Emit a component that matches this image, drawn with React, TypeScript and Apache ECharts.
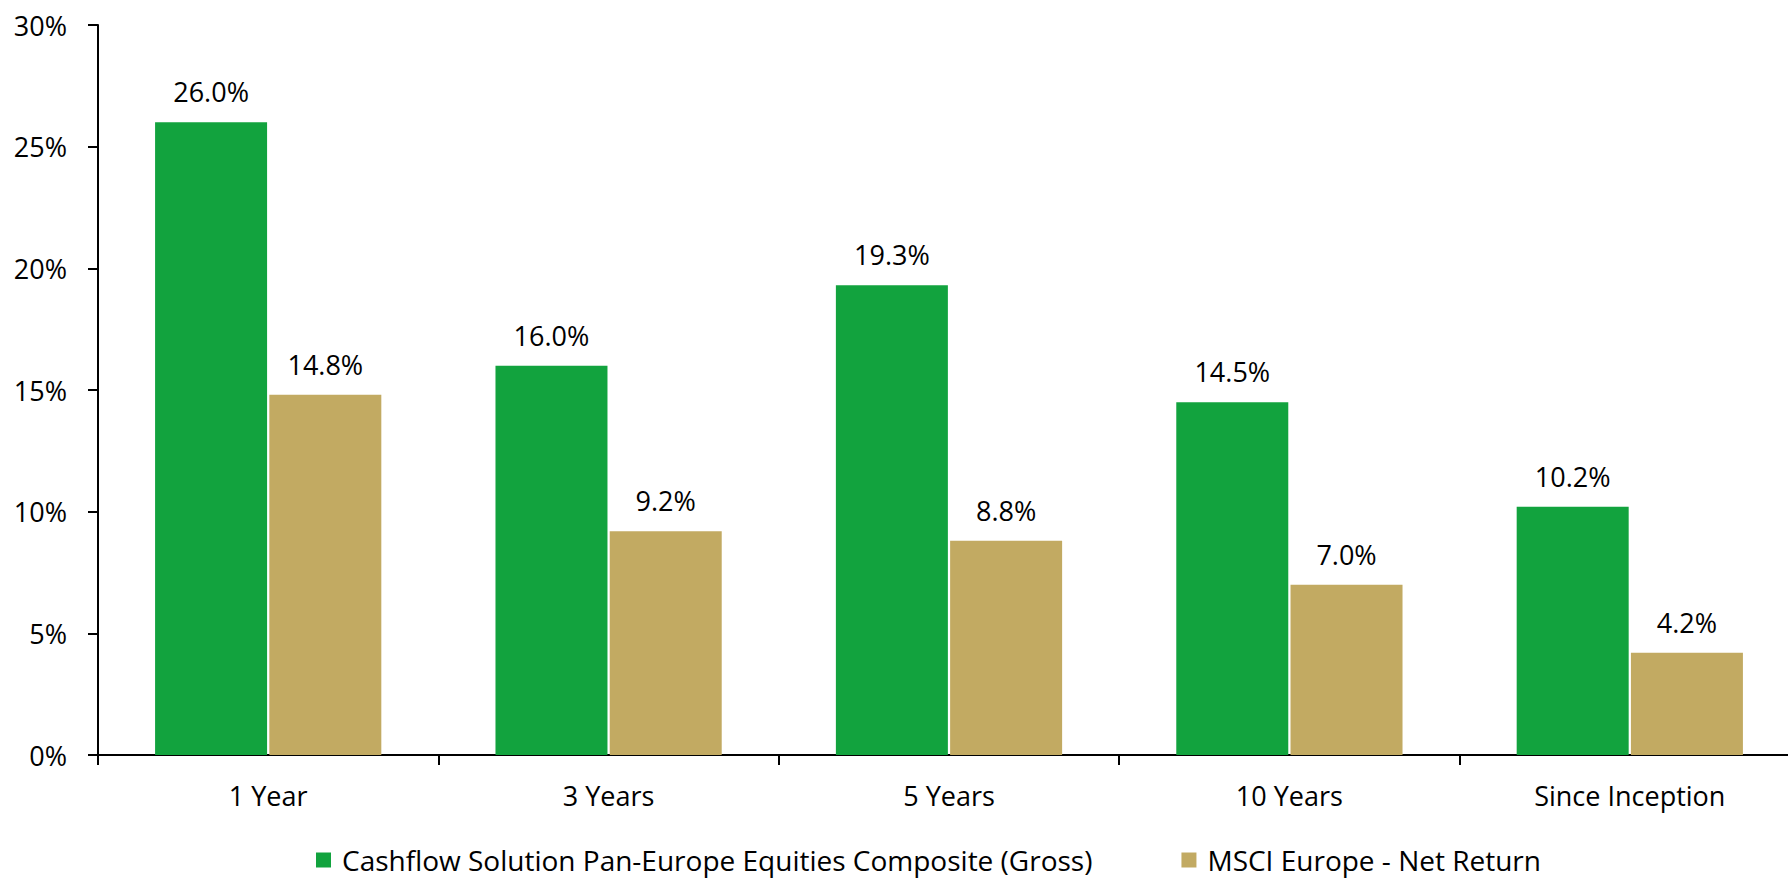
import React, { useEffect, useRef } from "react";
import * as echarts from "echarts";

const categories = ["1 Year", "3 Years", "5 Years", "10 Years", "Since Inception"];
const compositeValues = [26.0, 16.0, 19.3, 14.5, 10.2];
const benchmarkValues = [14.8, 9.2, 8.8, 7.0, 4.2];
const seriesNames = [
  "Cashflow Solution Pan-Europe Equities Composite (Gross)",
  "MSCI Europe - Net Return",
];

const FONT = "Open Sans";

export default function App() {
  const ref = useRef<HTMLDivElement>(null);
  useEffect(() => {
    if (!ref.current) return;
    const chart = echarts.init(ref.current, undefined, { renderer: "svg" });
    const label = {
      show: true,
      position: "top" as const,
      distance: 17,
      formatter: (p: any) => p.value.toFixed(1) + "%",
      color: "#000",
      fontFamily: FONT,
      fontSize: 27,
    };
    chart.setOption({
      animation: false,
      backgroundColor: "#fff",
      textStyle: { fontFamily: FONT },
      grid: { left: 98, top: 25, width: 1702, height: 730 },
      legend: {
        left: 316,
        top: 846,
        padding: 0,
        itemWidth: 15,
        itemHeight: 15,
        itemGap: 89,
        icon: "rect",
        textStyle: {
          fontFamily: FONT,
          fontSize: 28,
          lineHeight: 28,
          color: "#000",
          padding: [0, 0, 0, 6],
        },
        data: seriesNames,
      },
      xAxis: {
        type: "category",
        data: categories,
        axisLine: { show: true, lineStyle: { color: "#000", width: 2 } },
        axisTick: { show: true, length: 10, lineStyle: { color: "#000", width: 2 } },
        axisLabel: { color: "#000", fontFamily: FONT, fontSize: 27, margin: 27 },
      },
      yAxis: {
        type: "value",
        min: 0,
        max: 30,
        interval: 5,
        axisLine: { show: true, lineStyle: { color: "#000", width: 2 } },
        axisTick: { show: true, length: 10, lineStyle: { color: "#000", width: 2 } },
        splitLine: { show: false },
        axisLabel: {
          color: "#000",
          fontFamily: FONT,
          fontSize: 27,
          margin: 31,
          formatter: "{value}%",
        },
      },
      series: [
        {
          name: seriesNames[0],
          type: "bar",
          data: compositeValues,
          barWidth: 112,
          barGap: "2%",
          itemStyle: { color: "#12A33E" },
          label,
        },
        {
          name: seriesNames[1],
          type: "bar",
          data: benchmarkValues,
          barWidth: 112,
          barGap: "2%",
          itemStyle: { color: "#C2AA62" },
          label,
        },
      ],
    });
    return () => chart.dispose();
  }, []);
  return (
    <div
      style={{
        position: "fixed",
        left: 0,
        top: 0,
        width: 1788,
        height: 880,
        overflow: "hidden",
        background: "#fff",
      }}
    >
      <div ref={ref} style={{ position: "absolute", left: 0, top: 0, width: 1812, height: 880 }} />
    </div>
  );
}
